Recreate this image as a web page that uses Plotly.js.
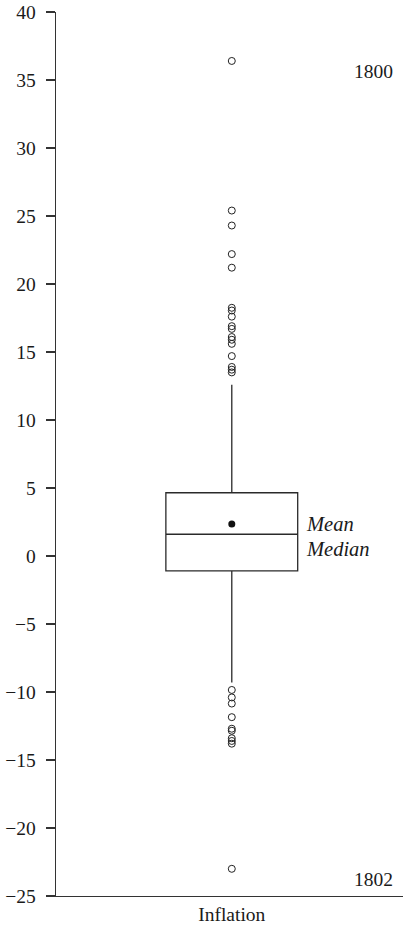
<!DOCTYPE html>
<html>
<head>
<meta charset="utf-8">
<script src="https://cdn.plot.ly/plotly-3.0.1.min.js"></script>
<style>html,body{margin:0;padding:0;background:#fff}#chart{width:403px;height:932px}</style>
</head>
<body>
<div id="chart"></div>
<script>
const category = 'Inflation';
const q1 = -1.1;
const median = 1.6;
const q3 = 4.65;
const lowerFence = -9.3;
const upperFence = 12.6;
const meanValue = 2.35;
const outliersHigh = [36.4, 25.4, 24.3, 22.2, 21.2, 18.25, 18.05, 17.6, 16.9, 16.7, 16.1, 15.9, 15.6, 14.7, 13.9, 13.7, 13.5];
const outliersLow = [-9.85, -10.4, -10.85, -11.85, -12.7, -12.85, -13.4, -13.6, -13.8, -23.0];
const yTicks = [40, 35, 30, 25, 20, 15, 10, 5, 0, -5, -10, -15, -20, -25];
const sideLabels = ['Mean', 'Median'];
const yearLabels = ['1800', '1802'];

const serif = 'Liberation Serif';
const outliers = outliersHigh.concat(outliersLow);

const traces = [
  {
    type: 'box',
    x: [category],
    q1: [q1], median: [median], q3: [q3],
    lowerfence: [lowerFence], upperfence: [upperFence],
    boxpoints: false,
    width: 0.375,
    whiskerwidth: 0,
    fillcolor: '#ffffff',
    line: {color: '#2a2a2a', width: 1.3},
    hoverinfo: 'skip',
    showlegend: false
  },
  {
    type: 'scatter', mode: 'markers',
    x: outliers.map(() => category), y: outliers,
    marker: {symbol: 'circle-open', size: 7, color: '#222', line: {width: 1, color: '#222'}},
    showlegend: false, hoverinfo: 'y'
  },
  {
    type: 'scatter', mode: 'markers',
    x: [category], y: [meanValue],
    marker: {symbol: 'circle', size: 7, color: '#111'},
    showlegend: false, hoverinfo: 'y'
  }
];

const txt = {family: serif, size: 19.5, color: '#1a1a1a'};
const ital = {family: serif, size: 20.5, color: '#1a1a1a'};

const layout = {
  width: 403, height: 932,
  margin: {l: 56, r: 0, t: 12, b: 36},
  paper_bgcolor: '#fff', plot_bgcolor: '#fff',
  font: txt,
  showlegend: false,
  xaxis: {
    type: 'category',
    range: [-0.5, 0.487],
    showline: true, linecolor: '#333', linewidth: 1.3,
    ticks: '', showgrid: false, zeroline: false,
    tickfont: txt,
    fixedrange: true
  },
  yaxis: {
    range: [-25, 40],
    tickvals: yTicks,
    showline: true, linecolor: '#333', linewidth: 1.3,
    ticks: 'outside', ticklen: 9, tickwidth: 1.3, tickcolor: '#333',
    ticklabelstandoff: 6,
    showgrid: false, zeroline: false,
    tickfont: txt,
    fixedrange: true
  },
  annotations: [
    {xref: 'paper', yref: 'y', x: 0.853, y: 35.65, xanchor: 'left', yanchor: 'middle', text: yearLabels[0], showarrow: false, font: txt},
    {xref: 'paper', yref: 'y', x: 0.853, y: -23.8, xanchor: 'left', yanchor: 'middle', text: yearLabels[1], showarrow: false, font: txt},
    {xref: 'paper', yref: 'y', x: 0.716, y: meanValue, xanchor: 'left', yanchor: 'middle', text: '<i>' + sideLabels[0] + '</i>', showarrow: false, font: ital},
    {xref: 'paper', yref: 'y', x: 0.716, y: 0.5, xanchor: 'left', yanchor: 'middle', text: '<i>' + sideLabels[1] + '</i>', showarrow: false, font: ital}
  ]
};

Plotly.newPlot('chart', traces, layout, {displayModeBar: false, staticPlot: true});
</script>
</body>
</html>
